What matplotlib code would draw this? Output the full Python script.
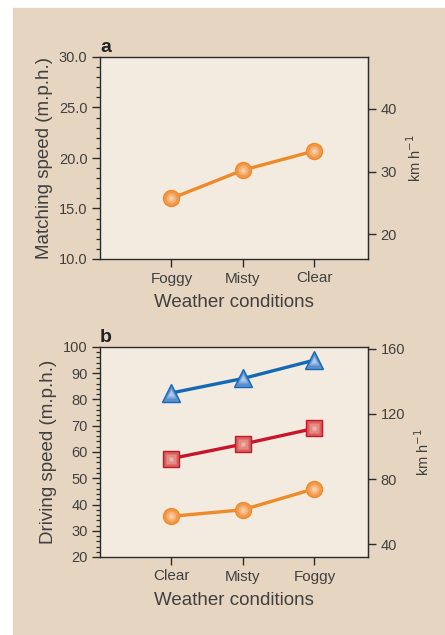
import matplotlib.pyplot as plt
from matplotlib.ticker import MultipleLocator

plt.rcParams['font.family'] = ['Liberation Sans', 'DejaVu Sans']

# Panel a: matching speed
cats_a = ['Foggy', 'Misty', 'Clear']
match_speed = [16.0, 18.8, 20.7]

# Panel b: driving speed (three groups)
cats_b = ['Clear', 'Misty', 'Foggy']
drive_high = [82.5, 88.0, 95.0]
drive_mid = [57.5, 63.0, 69.0]
drive_low = [35.5, 38.0, 46.0]

MPH_TO_KMH = 1.609344
text_col = '#404040'
bg_col = '#e6d6c1'
face_col = '#f3ebdf'


def marker_line(ax, x, y, line_col, face, light, marker, ms):
    ax.plot(x, y, color=line_col, lw=2.4, zorder=2)
    ax.plot(x, y, ls='none', marker=marker, ms=ms, mfc=face, mec=line_col,
            mew=1.0, zorder=3)
    # lighter centre to mimic the shaded markers
    ax.plot(x, y, ls='none', marker=marker, ms=ms * 0.6, mfc=light, mec='none',
            alpha=0.55, zorder=4)
    ax.plot(x, y, ls='none', marker=marker, ms=ms * 0.3, mfc='white', mec='none',
            alpha=0.35, zorder=5)


def style_axes(ax, ylim, major, minor, fmt, right_ticks, ylabel):
    ax.set_facecolor(face_col)
    ax.set_xlim(-1, 2.75)
    ax.set_ylim(*ylim)
    ax.yaxis.set_major_locator(MultipleLocator(major))
    ax.yaxis.set_minor_locator(MultipleLocator(minor))
    ax.yaxis.set_major_formatter(fmt)
    for side in ['left', 'bottom', 'right', 'top']:
        ax.spines[side].set_color('#2b2b2b')
        ax.spines[side].set_linewidth(1.0)
    ax.tick_params(axis='both', which='major', direction='out', length=6,
                   width=1.0, color='#2b2b2b', labelcolor=text_col,
                   labelsize=10.5, pad=3)
    ax.tick_params(axis='x', labelsize=11)
    ax.tick_params(axis='y', which='minor', direction='out', length=3,
                   width=0.9, color='#2b2b2b')
    ax.set_ylabel(ylabel, fontsize=13.5, color=text_col, labelpad=4)
    ax.set_xlabel('Weather conditions', fontsize=13.5, color=text_col,
                  labelpad=6)

    ax2 = ax.twinx()
    ax2.set_ylim(ylim[0] * MPH_TO_KMH, ylim[1] * MPH_TO_KMH)
    ax2.set_yticks(right_ticks)
    for side in ['top', 'left', 'bottom']:
        ax2.spines[side].set_visible(False)
    ax2.spines['right'].set_color('#2b2b2b')
    ax2.tick_params(axis='y', direction='out', length=6, width=1.0,
                    color='#2b2b2b', labelcolor=text_col, labelsize=10.5, pad=3)
    ax2.set_ylabel('km h$^{-1}$', fontsize=10.5, color=text_col, labelpad=6)
    return ax2


fig = plt.figure(figsize=(4.45, 6.35), dpi=100)
fig.patch.set_facecolor('white')
fig.patches.append(plt.Rectangle((13 / 445, 0), 1, 1 - 8 / 635,
                                 transform=fig.transFigure, color=bg_col,
                                 zorder=-10))

orange, orange_face, orange_light = '#ee8a2a', '#f29a4c', '#f8c99c'
red, red_face, red_light = '#c8142c', '#d9605a', '#eeb0a4'
blue, blue_face, blue_light = '#1468b4', '#5b8ed0', '#a9c4e8'

# Panel a
ax_a = fig.add_axes([100 / 445, 1 - 259 / 635, 268 / 445, 202 / 635])
xa = list(range(len(cats_a)))
marker_line(ax_a, xa, match_speed, orange, orange_face, orange_light, 'o', 11.5)
ax_a.set_xticks(xa)
ax_a.set_xticklabels(cats_a)
style_axes(ax_a, (10, 30), 5, 1, '{x:.1f}', [20, 30, 40],
           'Matching speed (m.p.h.)')
ax_a.text(0.0, 1.005, 'a', transform=ax_a.transAxes, fontsize=14,
          fontweight='bold', color='#222222', va='bottom', ha='left')

# Panel b
ax_b = fig.add_axes([100 / 445, 1 - 557 / 635, 268 / 445, 210 / 635])
xb = list(range(len(cats_b)))
marker_line(ax_b, xb, drive_high, blue, blue_face, blue_light, '^', 13)
marker_line(ax_b, xb, drive_mid, red, red_face, red_light, 's', 11)
marker_line(ax_b, xb, drive_low, orange, orange_face, orange_light, 'o', 11.5)
ax_b.set_xticks(xb)
ax_b.set_xticklabels(cats_b)
style_axes(ax_b, (20, 100), 10, 2, '{x:.0f}', [40, 80, 120, 160],
           'Driving speed (m.p.h.)')
ax_b.text(0.0, 1.005, 'b', transform=ax_b.transAxes, fontsize=14,
          fontweight='bold', color='#222222', va='bottom', ha='left')

fig.savefig('out.png', dpi=100, facecolor=fig.get_facecolor())
